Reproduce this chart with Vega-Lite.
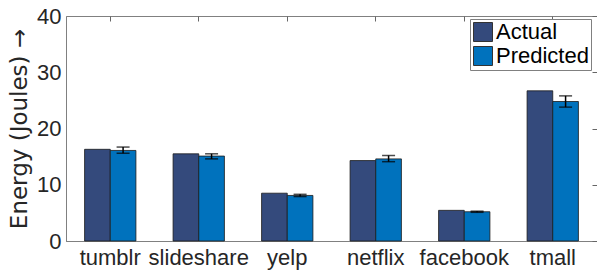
{
  "$schema": "https://vega.github.io/schema/vega-lite/v6.json",
  "autosize": "none",
  "width": 531,
  "height": 225,
  "padding": {"left": 66, "top": 16, "right": 0, "bottom": 29},
  "background": "white",
  "config": {
    "font": "Liberation Sans",
    "view": {"stroke": "#808080", "strokeWidth": 1},
    "axis": {"grid": false, "domainColor": "#808080", "tickColor": "#808080", "labelColor": "#262626", "titleColor": "#262626", "labelFont": "Liberation Sans", "titleFont": "Liberation Sans", "labelOverlap": false}
  },
  "data": {
    "values": [
      {"app": "tumblr", "type": "Actual", "value": 16.3},
      {"app": "tumblr", "type": "Predicted", "value": 16.1, "lo": 15.6, "hi": 16.7},
      {"app": "slideshare", "type": "Actual", "value": 15.5},
      {"app": "slideshare", "type": "Predicted", "value": 15.1, "lo": 14.6, "hi": 15.5},
      {"app": "yelp", "type": "Actual", "value": 8.5},
      {"app": "yelp", "type": "Predicted", "value": 8.1, "lo": 7.9, "hi": 8.3},
      {"app": "netflix", "type": "Actual", "value": 14.3},
      {"app": "netflix", "type": "Predicted", "value": 14.6, "lo": 14.1, "hi": 15.2},
      {"app": "facebook", "type": "Actual", "value": 5.45},
      {"app": "facebook", "type": "Predicted", "value": 5.2, "lo": 5.1, "hi": 5.3},
      {"app": "tmall", "type": "Actual", "value": 26.7},
      {"app": "tmall", "type": "Predicted", "value": 24.8, "lo": 23.8, "hi": 25.8}
    ]
  },
  "layer": [
    {
      "mark": {"type": "bar", "stroke": "#1a1a1a", "strokeWidth": 0.8},
      "encoding": {
        "x": {
          "field": "app", "type": "nominal", "sort": null,
          "scale": {"paddingInner": 0.42, "paddingOuter": 0.21},
          "axis": {"title": null, "labelAngle": 0, "labelFontSize": 22, "labelPadding": 6, "ticks": false, "tickBand": "center"}
        },
        "xOffset": {"field": "type", "type": "nominal", "scale": {"domain": ["Actual", "Predicted"]}},
        "y": {
          "field": "value", "type": "quantitative",
          "scale": {"domain": [0, 40], "nice": false},
          "axis": {"title": "Energy (Joules) →", "titleFont": "DejaVu Sans", "titleFontSize": 23, "titleFontWeight": "normal", "titlePadding": 5, "labelFontSize": 22, "labelPadding": 5, "values": [0, 10, 20, 30, 40], "ticks": false}
        },
        "color": {
          "field": "type", "type": "nominal",
          "scale": {"domain": ["Actual", "Predicted"], "range": ["#344a7c", "#0072bd"]},
          "legend": {
            "title": null, "orient": "none", "legendX": 404, "legendY": 3,
            "symbolType": "square", "symbolSize": 361, "symbolStrokeColor": "#333333", "symbolStrokeWidth": 1,
            "labelFontSize": 22, "labelColor": "#000000", "labelOffset": 2, "rowPadding": 0,
            "padding": 2, "strokeColor": "#808080", "fillColor": "white"
          }
        }
      }
    },
    {
      "transform": [{"filter": "datum.type === 'Predicted'"}],
      "mark": {"type": "rule", "color": "black", "strokeWidth": 1.5},
      "encoding": {
        "x": {"field": "app", "type": "nominal", "sort": null,
          "axis": {"orient": "top", "title": null, "labels": false, "domain": false, "ticks": true, "tickSize": 5, "tickColor": "#666666", "offset": -5, "tickBand": "center"}},
        "xOffset": {"field": "type", "type": "nominal"},
        "y": {"field": "lo", "type": "quantitative",
          "axis": {"orient": "right", "title": null, "labels": false, "domain": false, "ticks": true, "values": [0, 10, 20, 30, 40], "tickSize": 5, "tickColor": "#666666", "offset": -5}},
        "y2": {"field": "hi"}
      }
    },
    {
      "transform": [{"filter": "datum.type === 'Predicted'"}],
      "mark": {"type": "tick", "color": "black", "size": 13, "thickness": 1.5, "orient": "horizontal"},
      "encoding": {
        "x": {"field": "app", "type": "nominal", "sort": null, "axis": null},
        "xOffset": {"field": "type", "type": "nominal"},
        "y": {"field": "lo", "type": "quantitative", "axis": null}
      }
    },
    {
      "transform": [{"filter": "datum.type === 'Predicted'"}],
      "mark": {"type": "tick", "color": "black", "size": 13, "thickness": 1.5, "orient": "horizontal"},
      "encoding": {
        "x": {"field": "app", "type": "nominal", "sort": null, "axis": null},
        "xOffset": {"field": "type", "type": "nominal"},
        "y": {"field": "hi", "type": "quantitative", "axis": null}
      }
    }
  ],
  "resolve": {"axis": {"x": "independent", "y": "independent"}}
}
